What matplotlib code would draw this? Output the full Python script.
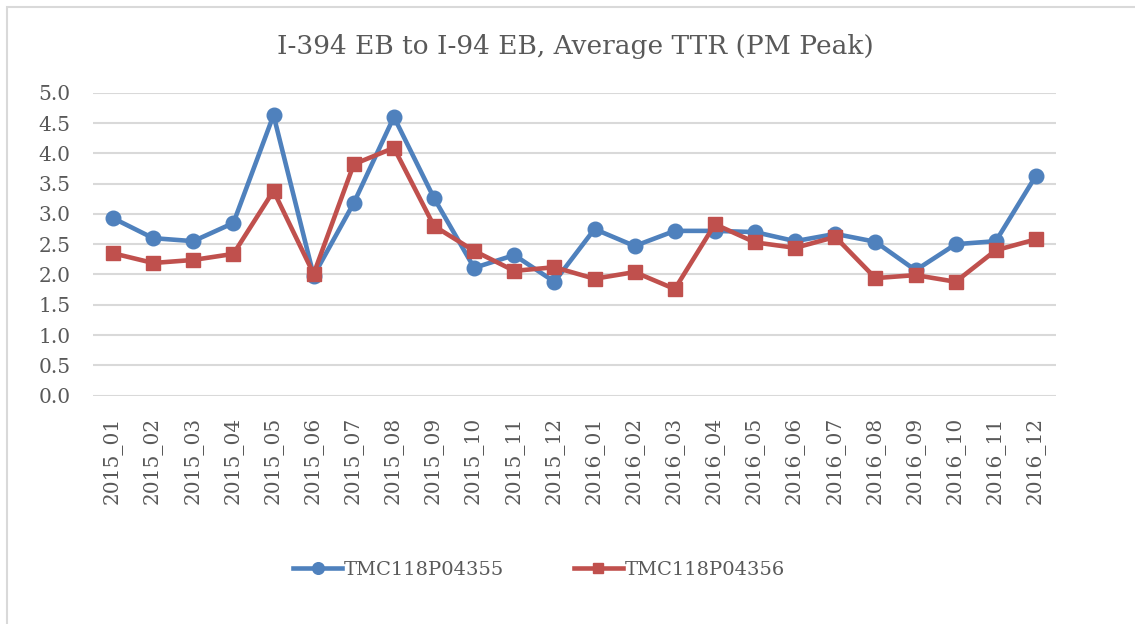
import matplotlib.pyplot as plt
from matplotlib.patches import Rectangle

months = ['2015_01', '2015_02', '2015_03', '2015_04', '2015_05', '2015_06',
          '2015_07', '2015_08', '2015_09', '2015_10', '2015_11', '2015_12',
          '2016_01', '2016_02', '2016_03', '2016_04', '2016_05', '2016_06',
          '2016_07', '2016_08', '2016_09', '2016_10', '2016_11', '2016_12']
tmc_4355 = [2.93, 2.60, 2.55, 2.85, 4.63, 1.98, 3.18, 4.60, 3.26, 2.11, 2.32, 1.88,
            2.75, 2.47, 2.72, 2.72, 2.70, 2.55, 2.67, 2.54, 2.07, 2.50, 2.55, 3.63]
tmc_4356 = [2.35, 2.19, 2.24, 2.34, 3.38, 2.01, 3.82, 4.09, 2.80, 2.39, 2.06, 2.12,
            1.93, 2.04, 1.76, 2.83, 2.53, 2.44, 2.62, 1.94, 1.99, 1.88, 2.40, 2.58]
yticks = [0.0, 0.5, 1.0, 1.5, 2.0, 2.5, 3.0, 3.5, 4.0, 4.5, 5.0]

text_color = '#595959'
plt.rcParams['font.family'] = ['DejaVu Serif']

fig = plt.figure(figsize=(11.35, 6.24), dpi=100)
ax = fig.add_axes([0.0819, 0.3659, 0.8485, 0.4855])

# chart border like the excel frame
fig.patches.append(Rectangle((7 / 1135, -0.1), 1.2, 1 - 7 / 624 + 0.1,
                             transform=fig.transFigure, fill=False,
                             edgecolor='#D9D9D9', linewidth=1.5))

x = range(len(months))
ax.plot(x, tmc_4355, color='#4F81BD', linewidth=3.3, marker='o',
        markersize=10.5, label='TMC118P04355')
ax.plot(x, tmc_4356, color='#C0504D', linewidth=3.3, marker='s',
        markersize=9.5, label='TMC118P04356')

ax.set_xlim(-0.5, len(months) - 0.5)
ax.set_ylim(0, 5.0)
ax.set_yticks(yticks)
ax.set_yticklabels(['%.1f' % v for v in yticks])
ax.set_xticks(list(x))
ax.set_xticklabels(months, rotation=90)
ax.tick_params(length=0, labelsize=14.5, colors=text_color)
ax.tick_params(axis='y', pad=16)
ax.tick_params(axis='x', pad=15)
ax.grid(axis='y', color='#D9D9D9', linewidth=1.5)
ax.set_axisbelow(True)
for s in ax.spines.values():
    s.set_visible(False)

fig.text(0.507, 0.925, 'I-394 EB to I-94 EB, Average TTR (PM Peak)',
         ha='center', va='center', fontsize=19, color=text_color)

fig.legend(loc='center', bbox_to_anchor=(0.475, 0.087), ncol=2, frameon=False,
           fontsize=14, labelcolor=text_color, handlelength=2.5,
           handletextpad=0.1, columnspacing=3.6, markerscale=0.8)

fig.savefig('out.png', dpi=100)
